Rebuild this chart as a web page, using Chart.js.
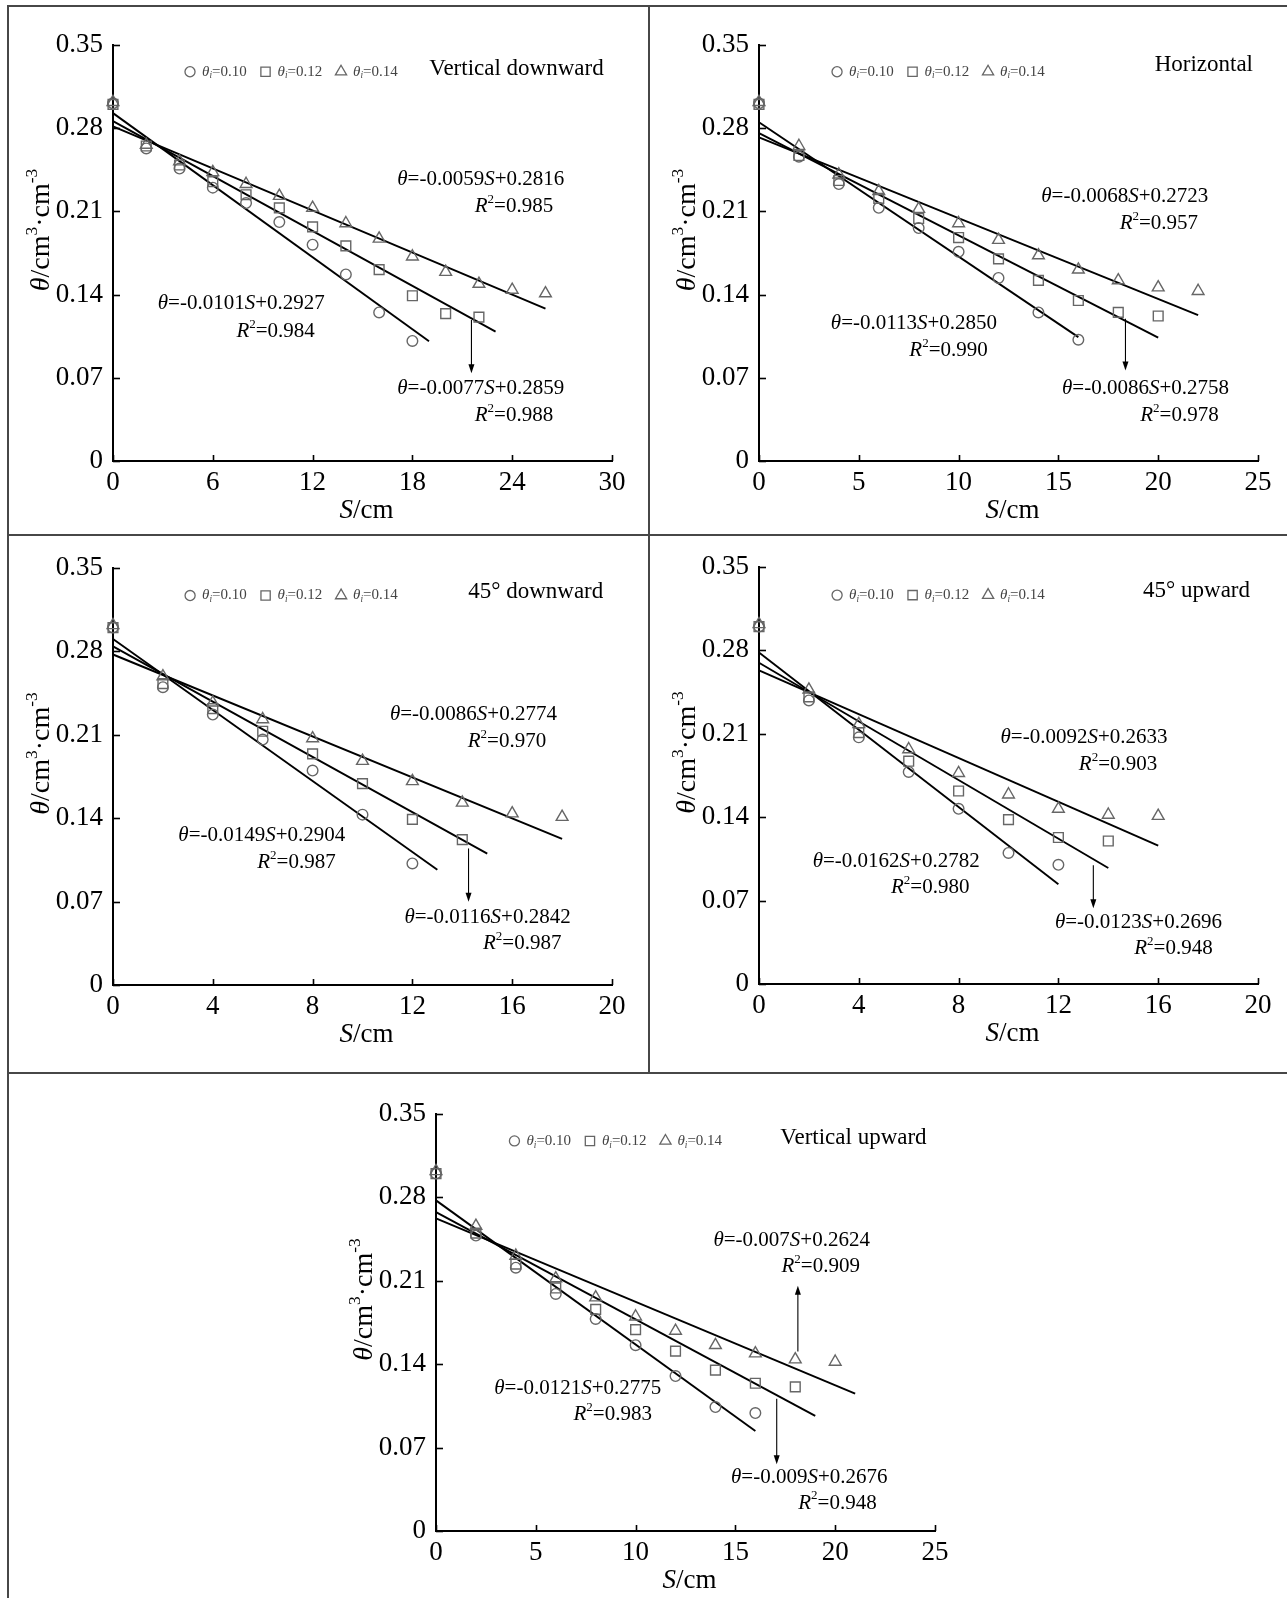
<!DOCTYPE html>
<html><head><meta charset="utf-8">
<script src="https://cdn.jsdelivr.net/npm/chart.js@4.4.1/dist/chart.umd.min.js"></script>
<style>
html,body{margin:0;padding:0;background:#fff;}
#wrap{position:relative;width:1287px;height:1598px;overflow:hidden;background:#fff;}
#wrap canvas{position:absolute;left:0;top:0;}
.ln{position:absolute;background:#474747;}
</style></head><body>
<div id="wrap">
<div class="ln" style="left:7px;top:5px;width:1280px;height:2px"></div>
<div class="ln" style="left:7px;top:5px;width:2px;height:1593px"></div>
<div class="ln" style="left:648px;top:5px;width:2px;height:1069px"></div>
<div class="ln" style="left:7px;top:534px;width:1280px;height:2px"></div>
<div class="ln" style="left:7px;top:1072px;width:1280px;height:2px"></div>
</div>
<script>
// ================= DATA =================
const yTicks = [0, 0.07, 0.14, 0.21, 0.28, 0.35];
const yTickLabels = ['0', '0.07', '0.14', '0.21', '0.28', '0.35'];
const seriesNames = ['0.10', '0.12', '0.14'];

// --- Vertical downward ---
const vdTitle = 'Vertical downward';
const vdXTicks = [0, 6, 12, 18, 24, 30];
const vdS10 = [0, 2, 4, 6, 8, 10, 12, 14, 16, 18];
const vdTheta10 = [0.301, 0.263, 0.246, 0.230, 0.217, 0.201, 0.182, 0.157, 0.125, 0.101];
const vdS12 = [0, 2, 4, 6, 8, 10, 12, 14, 16, 18, 20, 22];
const vdTheta12 = [0.300, 0.265, 0.249, 0.235, 0.224, 0.213, 0.197, 0.181, 0.161, 0.139, 0.124, 0.121];
const vdS14 = [0, 2, 4, 6, 8, 10, 12, 14, 16, 18, 20, 22, 24, 26];
const vdTheta14 = [0.302, 0.266, 0.252, 0.243, 0.233, 0.223, 0.213, 0.200, 0.187, 0.172, 0.159, 0.149, 0.144, 0.141];
const vdSlope = [-0.0101, -0.0077, -0.0059];
const vdIntercept = [0.2927, 0.2859, 0.2816];
const vdFitEnd = [19, 23, 26];
const vdR2 = [0.984, 0.988, 0.985];
const vdEq = ['θ=-0.0101S+0.2927', 'θ=-0.0077S+0.2859', 'θ=-0.0059S+0.2816'];

// --- Horizontal ---
const hoTitle = 'Horizontal';
const hoXTicks = [0, 5, 10, 15, 20, 25];
const hoS10 = [0, 2, 4, 6, 8, 10, 12, 14, 16];
const hoTheta10 = [0.301, 0.256, 0.233, 0.213, 0.196, 0.176, 0.154, 0.125, 0.102];
const hoS12 = [0, 2, 4, 6, 8, 10, 12, 14, 16, 18, 20];
const hoTheta12 = [0.300, 0.257, 0.236, 0.221, 0.204, 0.188, 0.170, 0.152, 0.135, 0.125, 0.122];
const hoS14 = [0, 2, 4, 6, 8, 10, 12, 14, 16, 18, 20, 22];
const hoTheta14 = [0.302, 0.265, 0.241, 0.227, 0.212, 0.200, 0.186, 0.173, 0.161, 0.152, 0.146, 0.143];
const hoSlope = [-0.0113, -0.0086, -0.0068];
const hoIntercept = [0.2850, 0.2758, 0.2723];
const hoFitEnd = [16, 20, 22];
const hoR2 = [0.990, 0.978, 0.957];
const hoEq = ['θ=-0.0113S+0.2850', 'θ=-0.0086S+0.2758', 'θ=-0.0068S+0.2723'];

// --- 45° downward ---
const ddTitle = '45° downward';
const ddXTicks = [0, 4, 8, 12, 16, 20];
const ddS10 = [0, 2, 4, 6, 8, 10, 12];
const ddTheta10 = [0.300, 0.250, 0.227, 0.206, 0.180, 0.143, 0.102];
const ddS12 = [0, 2, 4, 6, 8, 10, 12, 14];
const ddTheta12 = [0.300, 0.253, 0.232, 0.213, 0.194, 0.169, 0.139, 0.122];
const ddS14 = [0, 2, 4, 6, 8, 10, 12, 14, 16, 18];
const ddTheta14 = [0.302, 0.259, 0.237, 0.223, 0.207, 0.188, 0.171, 0.153, 0.144, 0.141];
const ddSlope = [-0.0149, -0.0116, -0.0086];
const ddIntercept = [0.2904, 0.2842, 0.2774];
const ddFitEnd = [13, 15, 18];
const ddR2 = [0.987, 0.987, 0.970];
const ddEq = ['θ=-0.0149S+0.2904', 'θ=-0.0116S+0.2842', 'θ=-0.0086S+0.2774'];

// --- 45° upward ---
const duTitle = '45° upward';
const duXTicks = [0, 4, 8, 12, 16, 20];
const duS10 = [0, 2, 4, 6, 8, 10, 12];
const duTheta10 = [0.300, 0.238, 0.207, 0.178, 0.147, 0.110, 0.100];
const duS12 = [0, 2, 4, 6, 8, 10, 12, 14];
const duTheta12 = [0.300, 0.241, 0.211, 0.187, 0.162, 0.138, 0.123, 0.120];
const duS14 = [0, 2, 4, 6, 8, 10, 12, 14, 16];
const duTheta14 = [0.302, 0.247, 0.218, 0.197, 0.177, 0.159, 0.147, 0.142, 0.141];
const duSlope = [-0.0162, -0.0123, -0.0092];
const duIntercept = [0.2782, 0.2696, 0.2633];
const duFitEnd = [12, 14, 16];
const duR2 = [0.980, 0.948, 0.903];
const duEq = ['θ=-0.0162S+0.2782', 'θ=-0.0123S+0.2696', 'θ=-0.0092S+0.2633'];

// --- Vertical upward ---
const vuTitle = 'Vertical upward';
const vuXTicks = [0, 5, 10, 15, 20, 25];
const vuS10 = [0, 2, 4, 6, 8, 10, 12, 14, 16];
const vuTheta10 = [0.300, 0.248, 0.221, 0.199, 0.178, 0.156, 0.130, 0.104, 0.099];
const vuS12 = [0, 2, 4, 6, 8, 10, 12, 14, 16, 18];
const vuTheta12 = [0.300, 0.250, 0.224, 0.204, 0.186, 0.169, 0.151, 0.135, 0.124, 0.121];
const vuS14 = [0, 2, 4, 6, 8, 10, 12, 14, 16, 18, 20];
const vuTheta14 = [0.302, 0.256, 0.231, 0.212, 0.196, 0.180, 0.168, 0.156, 0.149, 0.144, 0.142];
const vuSlope = [-0.0121, -0.009, -0.007];
const vuIntercept = [0.2775, 0.2676, 0.2624];
const vuFitEnd = [16, 19, 21];
const vuR2 = [0.983, 0.948, 0.909];
const vuEq = ['θ=-0.0121S+0.2775', 'θ=-0.009S+0.2676', 'θ=-0.007S+0.2624'];

// ================= LAYOUT (pixels / annotation anchors in axis units) =================
const W = 1287, H = 1598;
const layouts = {
  vd: {area: [113, 45, 612, 461], eq: [[2.69, 0.1324], [17.09, 0.0613], [17.09, 0.2372]],
       r2: [[7.42, 0.1093], [21.75, 0.0385], [21.75, 0.214]], arrows: [[21.55, 0.1186, 0.0738]],
       title: [29.5, 0.330], legend: [4.63, 0.3275]},
  ho: {area: [759, 45, 1258, 461], eq: [[3.6, 0.1153], [15.18, 0.0608], [14.14, 0.2225]],
       r2: [[7.53, 0.0927], [19.1, 0.0385], [18.07, 0.200]], arrows: [[18.36, 0.1197, 0.0762]],
       title: [24.75, 0.3335], legend: [3.91, 0.3275]},
  dd: {area: [113, 568, 612, 985], eq: [[2.62, 0.1253], [11.68, 0.0569], [11.1, 0.2267]],
       r2: [[5.78, 0.1031], [14.83, 0.0352], [14.22, 0.2042]], arrows: [[14.25, 0.1146, 0.0699]],
       title: [19.65, 0.3298], legend: [3.09, 0.3269]},
  du: {area: [759, 567, 1258, 984], eq: [[2.15, 0.1031], [11.86, 0.052], [9.68, 0.2065]],
       r2: [[5.29, 0.0809], [15.04, 0.0295], [12.82, 0.184]], arrows: [[13.4, 0.0996, 0.0635]],
       title: [19.68, 0.3298], legend: [3.13, 0.3264]},
  vu: {area: [436, 1114, 935, 1531], eq: [[2.92, 0.1196], [14.78, 0.0452], [13.9, 0.244]],
       r2: [[6.89, 0.0978], [18.15, 0.0235], [17.31, 0.222]], arrows: [[17.07, 0.111, 0.056], [18.13, 0.1507, 0.2058]],
       title: [24.58, 0.330], legend: [3.93, 0.3274]}
};

const panels = [
  {title: vdTitle, xTicks: vdXTicks, s: [vdS10, vdS12, vdS14], th: [vdTheta10, vdTheta12, vdTheta14],
   slope: vdSlope, icpt: vdIntercept, fitEnd: vdFitEnd, r2: vdR2, eq: vdEq, lay: layouts.vd},
  {title: hoTitle, xTicks: hoXTicks, s: [hoS10, hoS12, hoS14], th: [hoTheta10, hoTheta12, hoTheta14],
   slope: hoSlope, icpt: hoIntercept, fitEnd: hoFitEnd, r2: hoR2, eq: hoEq, lay: layouts.ho},
  {title: ddTitle, xTicks: ddXTicks, s: [ddS10, ddS12, ddS14], th: [ddTheta10, ddTheta12, ddTheta14],
   slope: ddSlope, icpt: ddIntercept, fitEnd: ddFitEnd, r2: ddR2, eq: ddEq, lay: layouts.dd},
  {title: duTitle, xTicks: duXTicks, s: [duS10, duS12, duS14], th: [duTheta10, duTheta12, duTheta14],
   slope: duSlope, icpt: duIntercept, fitEnd: duFitEnd, r2: duR2, eq: duEq, lay: layouts.du},
  {title: vuTitle, xTicks: vuXTicks, s: [vuS10, vuS12, vuS14], th: [vuTheta10, vuTheta12, vuTheta14],
   slope: vuSlope, icpt: vuIntercept, fitEnd: vuFitEnd, r2: vuR2, eq: vuEq, lay: layouts.vu}
];

const markerStyles = ['circle', 'rect', 'triangle'];
const markerRadii = [5.3, 6.9, 6.8];
const markerColor = '#666';
const INK = '#000';
const FONT = '"Liberation Serif", "Times New Roman", serif';

// ================= HELPERS =================
function fontStr(seg, size) {
  const s = (seg.sup || seg.sub) ? size * 0.62 : size;
  return (seg.it ? 'italic ' : '') + s.toFixed(1) + 'px ' + FONT;
}
function drawRich(ctx, segs, x, y, size, align, color) {
  ctx.save();
  ctx.fillStyle = color || INK;
  ctx.textBaseline = 'middle';
  ctx.textAlign = 'left';
  let w = 0; const ws = [];
  for (const s of segs) { ctx.font = fontStr(s, size); const m = ctx.measureText(s.t).width; ws.push(m); w += m; }
  let cx = align === 'center' ? x - w / 2 : (align === 'right' ? x - w : x);
  segs.forEach((s, i) => {
    ctx.font = fontStr(s, size);
    const dy = s.sup ? -size * 0.33 : (s.sub ? size * 0.28 : 0);
    ctx.fillText(s.t, cx, y + dy);
    cx += ws[i];
  });
  ctx.restore();
}
function eqSegs(str) {
  const segs = []; let buf = '';
  for (const ch of str) {
    if (ch === 'θ' || ch === 'S') { if (buf) { segs.push({t: buf}); buf = ''; } segs.push({t: ch, it: true}); }
    else buf += ch;
  }
  if (buf) segs.push({t: buf});
  return segs;
}
function drawMarker(ctx, style, x, y, r) {
  ctx.beginPath();
  if (style === 'circle') ctx.arc(x, y, r, 0, Math.PI * 2);
  else if (style === 'rect') { const s = r * Math.SQRT1_2; ctx.rect(x - s, y - s, 2 * s, 2 * s); }
  else {
    for (let i = 0; i < 3; i++) {
      const a = i * 2 * Math.PI / 3;
      const px = x + Math.sin(a) * r, py = y - Math.cos(a) * r;
      if (i) ctx.lineTo(px, py); else ctx.moveTo(px, py);
    }
    ctx.closePath();
  }
  ctx.stroke();
}
function drawArrow(ctx, x, y1, y2) {
  const dir = Math.sign(y2 - y1);
  ctx.save();
  ctx.strokeStyle = INK; ctx.fillStyle = INK; ctx.lineWidth = 1.1;
  ctx.beginPath(); ctx.moveTo(x, y1); ctx.lineTo(x, y2 - dir * 7); ctx.stroke();
  ctx.beginPath(); ctx.moveTo(x, y2); ctx.lineTo(x - 3, y2 - dir * 9); ctx.lineTo(x + 3, y2 - dir * 9); ctx.closePath(); ctx.fill();
  ctx.restore();
}

const decorPlugin = {
  id: 'decor',
  afterDraw(chart) {
    const p = chart.options.plugins.decor.panel;
    const ctx = chart.ctx, xs = chart.scales.x, ys = chart.scales.y, A = chart.chartArea;
    const X = v => xs.getPixelForValue(v), Y = v => ys.getPixelForValue(v);
    ctx.save();
    // inward tick marks
    ctx.strokeStyle = INK; ctx.lineWidth = 1.6;
    p.xTicks.forEach(v => { const px = Math.round(X(v)) + 0.5; ctx.beginPath(); ctx.moveTo(px, A.bottom); ctx.lineTo(px, A.bottom - 6); ctx.stroke(); });
    yTicks.forEach(v => { const py = Math.round(Y(v)) + 0.5; ctx.beginPath(); ctx.moveTo(A.left, py); ctx.lineTo(A.left + 7, py); ctx.stroke(); });
    // axis titles
    ctx.save();
    ctx.translate(A.left - 71, (A.top + A.bottom) / 2 - 23);
    ctx.rotate(-Math.PI / 2);
    drawRich(ctx, [{t: 'θ', it: true}, {t: '/cm'}, {t: '3', sup: true}, {t: '·cm'}, {t: '-3', sup: true}], 0, 0, 28, 'center', INK);
    ctx.restore();
    drawRich(ctx, [{t: 'S', it: true}, {t: '/cm'}], (A.left + A.right) / 2 + 4, A.bottom + 50, 27, 'center', INK);
    // panel title
    drawRich(ctx, [{t: p.title}], X(p.lay.title[0]), Y(p.lay.title[1]), 23, 'right', INK);
    // legend
    let lx = X(p.lay.legend[0]); const ly = Y(p.lay.legend[1]);
    for (let k = 0; k < 3; k++) {
      ctx.strokeStyle = markerColor; ctx.lineWidth = 1.3;
      drawMarker(ctx, markerStyles[k], lx, ly, markerRadii[k] * 0.95);
      drawRich(ctx, [{t: 'θ', it: true}, {t: 'i', it: true, sub: true}, {t: '=' + seriesNames[k]}], lx + 12, ly, 15, 'left', '#444');
      lx += 75.5;
    }
    // equations
    for (let k = 0; k < 3; k++) {
      drawRich(ctx, eqSegs(p.eq[k]), X(p.lay.eq[k][0]), Y(p.lay.eq[k][1]), 21, 'left', INK);
      drawRich(ctx, [{t: 'R', it: true}, {t: '2', sup: true}, {t: '=' + p.r2[k].toFixed(3)}], X(p.lay.r2[k][0]), Y(p.lay.r2[k][1]), 21, 'left', INK);
    }
    // arrows
    p.lay.arrows.forEach(a => drawArrow(ctx, X(a[0]), Y(a[1]), Y(a[2])));
    ctx.restore();
  }
};

const wrap = document.getElementById('wrap');
const YW = 80, XH = 60;

panels.forEach(p => {
  const cv = document.createElement('canvas');
  cv.width = W; cv.height = H;
  cv.style.width = W + 'px'; cv.style.height = H + 'px';
  wrap.appendChild(cv);
  const [l, t, r, b] = p.lay.area;
  const xMax = p.xTicks[p.xTicks.length - 1];
  const datasets = [];
  for (let k = 0; k < 3; k++) {
    datasets.push({
      label: 'θi=' + seriesNames[k],
      data: p.s[k].map((x, i) => ({x: x, y: p.th[k][i]})),
      pointStyle: markerStyles[k], pointRadius: markerRadii[k],
      borderColor: markerColor, backgroundColor: 'rgba(0,0,0,0)', pointBorderWidth: 1.4,
      showLine: false, clip: false
    });
  }
  for (let k = 0; k < 3; k++) {
    const xe = p.fitEnd[k];
    datasets.push({
      label: 'fit ' + seriesNames[k],
      data: [{x: 0, y: p.icpt[k]}, {x: xe, y: p.icpt[k] + p.slope[k] * xe}],
      showLine: true, pointRadius: 0, borderColor: '#000', borderWidth: 1.9, clip: false
    });
  }
  new Chart(cv, {
    type: 'scatter',
    data: {datasets},
    plugins: [decorPlugin],
    options: {
      responsive: false, animation: false, devicePixelRatio: 1,
      events: [],
      layout: {padding: {left: l - YW, top: t, right: W - r, bottom: H - b - XH}},
      plugins: {legend: {display: false}, tooltip: {enabled: false}, decor: {panel: p}},
      scales: {
        x: {
          type: 'linear', position: 'bottom', min: 0, max: xMax,
          afterBuildTicks: s => { s.ticks = p.xTicks.map(v => ({value: v})); },
          afterFit: s => { s.height = XH; s.paddingLeft = 0; s.paddingRight = 0; },
          ticks: {autoSkip: false, maxRotation: 0, minRotation: 0, padding: 6, color: INK,
                  font: {family: FONT, size: 27}, callback: (v, i) => String(p.xTicks[i])},
          grid: {display: false, drawTicks: false},
          border: {display: true, color: INK, width: 2}
        },
        y: {
          type: 'linear', position: 'left', min: 0, max: 0.35,
          afterBuildTicks: s => { s.ticks = yTicks.map(v => ({value: v})); },
          afterFit: s => { s.width = YW; s.paddingTop = 0; s.paddingBottom = 0; },
          ticks: {autoSkip: false, padding: 10, color: INK,
                  font: {family: FONT, size: 27}, callback: (v, i) => yTickLabels[i]},
          grid: {display: false, drawTicks: false},
          border: {display: true, color: INK, width: 2}
        }
      }
    }
  });
});
</script>
</body></html>
